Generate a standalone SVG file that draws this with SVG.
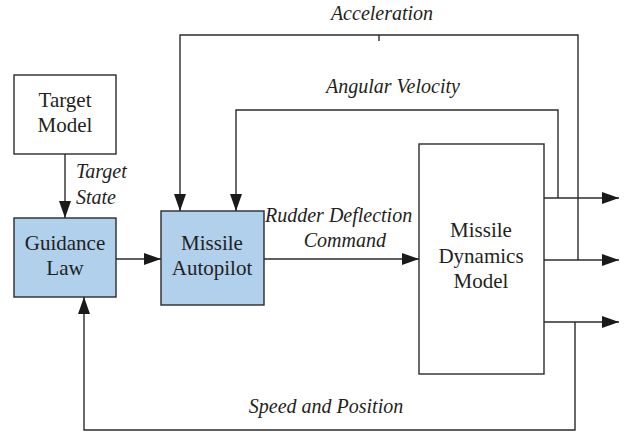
<svg xmlns="http://www.w3.org/2000/svg" width="626" height="432" viewBox="0 0 626 432">
<style>
.box{stroke:#2b2b2b;stroke-width:1.4;fill:#fff}
.blue{fill:#b0d0ec}
.t{font-size:21px;fill:#231f20;text-anchor:middle}
.i{font-size:20px;font-style:italic;fill:#231f20}
.c{fill:none;stroke:#2b2b2b;stroke-width:1.4}
</style>
<defs>
<marker id="ah" markerWidth="17" markerHeight="12" refX="17" refY="6" orient="auto" markerUnits="userSpaceOnUse">
<path d="M0,0 L17,6 L0,12 Z" fill="#1a1a1a"/>
</marker>
</defs>
<g font-family="'Liberation Serif', 'Times New Roman', serif">
<g id="target-model">
<rect class="box" x="14" y="75" width="102" height="79"/>
<text class="t" x="65" y="107">Target</text>
<text class="t" x="65" y="132">Model</text>
</g>
<g id="guidance-law">
<rect class="box blue" x="14" y="218" width="102" height="79"/>
<text class="t" x="65" y="250">Guidance</text>
<text class="t" x="65" y="275">Law</text>
</g>
<g id="missile-autopilot">
<rect class="box blue" x="161" y="211" width="103" height="94"/>
<text class="t" x="212" y="250">Missile</text>
<text class="t" x="212" y="275">Autopilot</text>
</g>
<g id="missile-dynamics">
<rect class="box" x="419" y="144" width="125" height="230"/>
<text class="t" x="481" y="237">Missile</text>
<text class="t" x="481" y="263">Dynamics</text>
<text class="t" x="481" y="288">Model</text>
</g>
<g id="connectors">
<path class="c" d="M65,154 V218" marker-end="url(#ah)"/>
<path class="c" d="M116,259 H161" marker-end="url(#ah)"/>
<path class="c" d="M264,259 H419" marker-end="url(#ah)"/>
<path class="c" d="M578,260 V35 H180 V211" marker-end="url(#ah)"/>
<path class="c" d="M379,35 V41"/>
<path class="c" d="M558,198 V110 H236 V211" marker-end="url(#ah)"/>
<path class="c" d="M544,198 H619" marker-end="url(#ah)"/>
<path class="c" d="M544,260 H619" marker-end="url(#ah)"/>
<path class="c" d="M544,322 H619" marker-end="url(#ah)"/>
<path class="c" d="M575,322 V430 H84 V297" marker-end="url(#ah)"/>
</g>
<g id="labels">
<text class="i" x="382" y="20" text-anchor="middle">Acceleration</text>
<text class="i" x="393" y="93" text-anchor="middle">Angular Velocity</text>
<text class="i" x="76" y="178">Target</text>
<text class="i" x="76" y="204">State</text>
<text class="i" x="265" y="222">Rudder Deflection</text>
<text class="i" x="386" y="247" text-anchor="end">Command</text>
<text class="i" x="326" y="413" text-anchor="middle">Speed and Position</text>
</g>
</g>
</svg>
